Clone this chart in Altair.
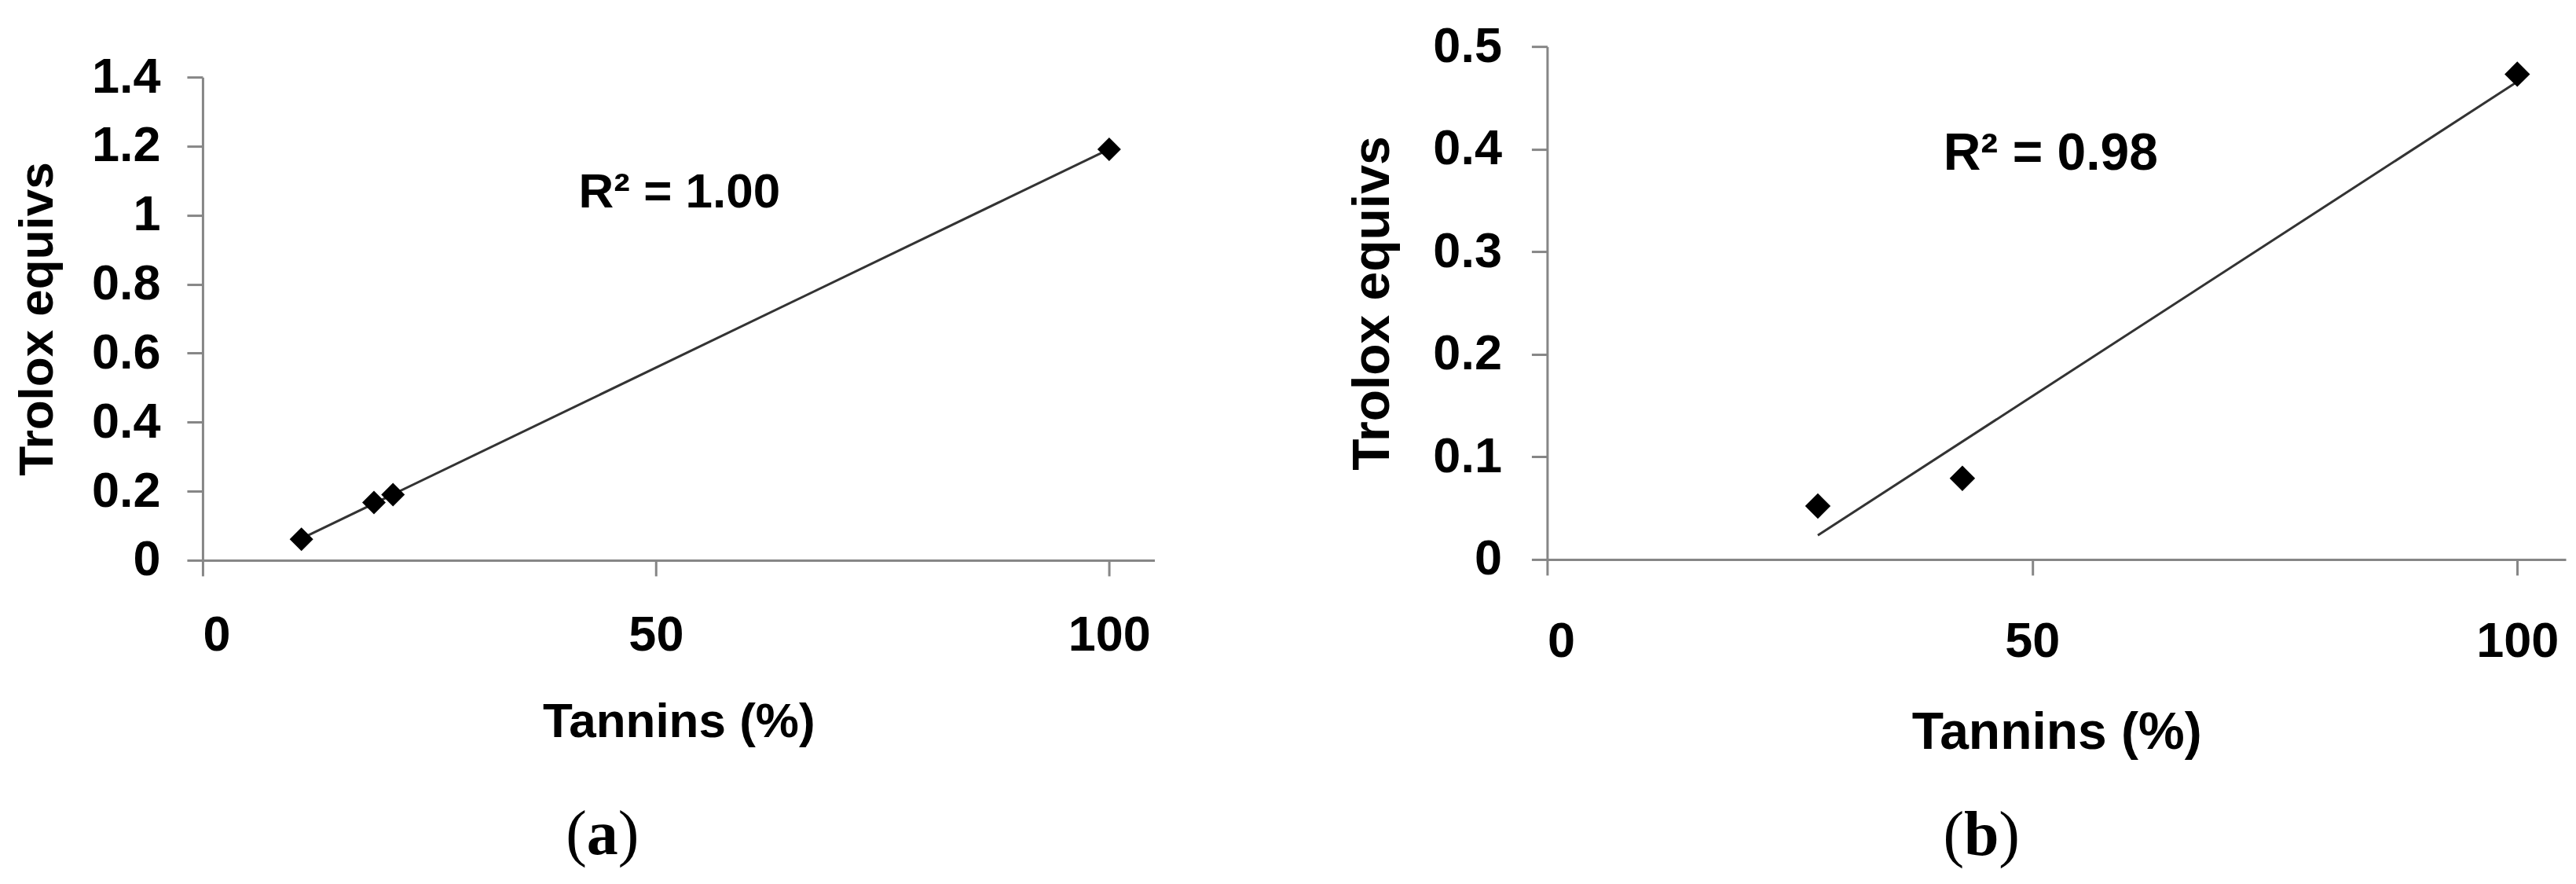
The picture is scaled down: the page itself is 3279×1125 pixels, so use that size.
import altair as alt
import pandas as pd

# ---- data ----
tannins_a = [10.9, 18.9, 21.0, 100.0]
trolox_a = [0.061, 0.167, 0.190, 1.191]
tannins_b = [27.9, 42.8, 100.0]
trolox_b = [0.052, 0.079, 0.473]

x_ticks = [0, 50, 100]
y_ticks_a = [0, 0.2, 0.4, 0.6, 0.8, 1.0, 1.2, 1.4]
y_ticks_b = [0, 0.1, 0.2, 0.3, 0.4, 0.5]

r2_labels = ["R\u00b2 = 1.00", "R\u00b2 = 0.98"]
r2_x = [52.6, 51.9]
r2_y = [1.065, 0.395]
captions = ["a", "b"]

SANS = "Liberation Sans"
SERIF = "Liberation Serif"


def panel(tx, ty, ydom, yticks, w, h, size, r2, rx, ry, cap, cap_x, cap_y,
          cap_half, x_lpad, x_tpad, y_lpad, y_tpad, tfs):
    df = pd.DataFrame({"t": tx, "v": ty})
    xenc = alt.X("t:Q", scale=alt.Scale(domain=[0, 105], nice=False, zero=False),
                 axis=alt.Axis(values=x_ticks, format="~g", title="Tannins (%)",
                               titlePadding=x_tpad, labelPadding=x_lpad,
                               titleFontSize=tfs))
    yenc = alt.Y("v:Q", scale=alt.Scale(domain=ydom, nice=False),
                 axis=alt.Axis(values=yticks, format="~g", title="Trolox equivs",
                               labelPadding=y_lpad, titlePadding=y_tpad,
                               titleFontSize=tfs))
    line = alt.Chart(df).transform_regression("t", "v").mark_line(
        color="#333333", strokeWidth=3).encode(x=xenc, y=yenc)
    pts = alt.Chart(df).mark_point(shape="diamond", filled=True, opacity=1,
                                   size=size, color="black").encode(x=xenc, y=yenc)
    lab = alt.Chart(pd.DataFrame({"t": [rx], "v": [ry], "label": [r2]})).mark_text(
        font=SANS, fontSize=tfs, fontWeight="bold", color="black"
    ).encode(x="t:Q", y="v:Q", text="label:N")
    capdf = pd.DataFrame({"c": [cap]})
    c_mid = alt.Chart(capdf).mark_text(font=SERIF, fontSize=80, fontWeight="bold",
                                       align="center", baseline="middle", color="black").encode(
        x=alt.value(cap_x), y=alt.value(cap_y), text="c:N")
    c_l = alt.Chart(capdf).mark_text(font=SERIF, fontSize=80, align="right",
                                     baseline="middle", color="black", text="(").encode(
        x=alt.value(cap_x - cap_half), y=alt.value(cap_y))
    c_r = alt.Chart(capdf).mark_text(font=SERIF, fontSize=80, align="left",
                                     baseline="middle", color="black", text=")").encode(
        x=alt.value(cap_x + cap_half), y=alt.value(cap_y))
    return alt.layer(line, pts, lab, c_mid, c_l, c_r).properties(width=w, height=h)


pa = panel(tannins_a, trolox_a, [0, 1.4], y_ticks_a, 1212, 615, 900,
           r2_labels[0], r2_x[0], r2_y[0], captions[0], 509, 965, 20,
           45, 48, 34, 37, 62)
pb = panel(tannins_b, trolox_b, [0, 0.5], y_ticks_b, 1297, 653, 1050,
           r2_labels[1], r2_x[1], r2_y[1], captions[1], 553, 1005, 22,
           54, 52, 38, 42, 66)

# thin invisible strip that lowers panel (a) relative to panel (b)
spacer = alt.Chart(pd.DataFrame({"s": [0]})).mark_rule(opacity=0).encode(
    x=alt.value(0), y=alt.value(0), y2=alt.value(1)).properties(width=1, height=1)

left = alt.vconcat(spacer, pa, spacing=7)

chart = alt.hconcat(left, pb, spacing=245).properties(
    padding={"left": 8, "top": 20, "right": 5, "bottom": 5}
).configure_view(stroke=None).configure_axis(
    grid=False, domainColor="#868686", domainWidth=3, tickColor="#868686",
    tickWidth=3, tickSize=20, labelFont=SANS, labelFontSize=63,
    labelFontWeight="bold", labelColor="black",
    titleFont=SANS, titleFontWeight="bold", titleColor="black"
)

chart.save("out.html", embed_options={"renderer": "svg", "actions": False})
